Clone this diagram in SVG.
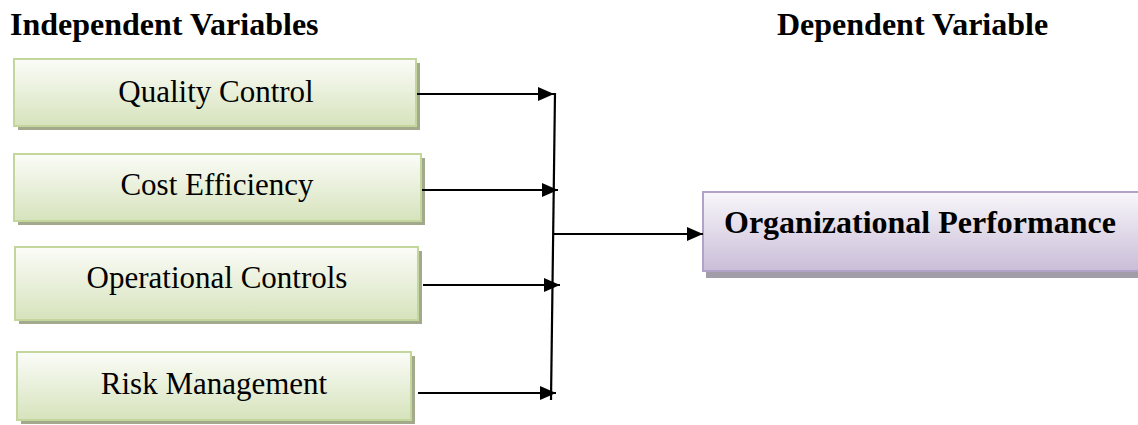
<svg xmlns="http://www.w3.org/2000/svg" width="1138" height="425" viewBox="0 0 1138 425">
<defs>
<linearGradient id="gGreen" x1="0" y1="0" x2="0" y2="1">
<stop offset="0" stop-color="#fbfcf8"/>
<stop offset="1" stop-color="#d6e3bc"/>
</linearGradient>
<linearGradient id="gPurple" x1="0" y1="0" x2="0" y2="1">
<stop offset="0" stop-color="#f8f7fa"/>
<stop offset="1" stop-color="#cabdd8"/>
</linearGradient>
<marker id="ah" viewBox="0 0 16 14" refX="16" refY="7" markerWidth="16" markerHeight="14" markerUnits="userSpaceOnUse" orient="auto">
<path d="M0,0 L16,7 L0,14 Z" fill="#000"/>
</marker>
<style>
.hdr{font-family:"Liberation Serif","Times New Roman",serif;font-weight:bold;font-size:32px;fill:#000}
.lbl{font-family:"Liberation Serif","Times New Roman",serif;font-size:31px;fill:#000;text-anchor:middle}
.big{font-family:"Liberation Serif","Times New Roman",serif;font-weight:bold;font-size:32px;fill:#000}
.gbox{fill:url(#gGreen);stroke:#c3d69b;stroke-width:2}
.gsh{fill:#a2a98c}
.pbox{fill:url(#gPurple);stroke:#b3a2c7;stroke-width:2}
.psh{fill:#a39ca9}
.conn{stroke:#000;stroke-width:2.2;fill:none}
</style>
</defs>
<rect width="1138" height="425" fill="#fff"/>
<text class="hdr" x="10" y="35">Independent Variables</text>
<text class="hdr" x="777" y="35">Dependent Variable</text>

<g id="node-quality">
<rect class="gsh" x="18" y="63" width="402" height="67"/>
<rect class="gbox" x="14" y="59" width="402" height="67"/>
<text class="lbl" x="216" y="102">Quality Control</text>
</g>
<g id="node-cost">
<rect class="gsh" x="18" y="158" width="407" height="67"/>
<rect class="gbox" x="14" y="154" width="407" height="67"/>
<text class="lbl" x="217" y="195">Cost Efficiency</text>
</g>
<g id="node-operational">
<rect class="gsh" x="19" y="251" width="403" height="73"/>
<rect class="gbox" x="15" y="247" width="403" height="73"/>
<text class="lbl" x="217" y="288">Operational Controls</text>
</g>
<g id="node-risk">
<rect class="gsh" x="21" y="356" width="394" height="68"/>
<rect class="gbox" x="17" y="352" width="394" height="68"/>
<text class="lbl" x="214" y="394">Risk Management</text>
</g>
<g id="node-performance">
<rect class="psh" x="706" y="196" width="440" height="82"/>
<rect class="pbox" x="703" y="192" width="440" height="79"/>
<text class="big" x="724" y="233">Organizational Performance</text>
</g>

<g id="connectors">
<line class="conn" x1="417" y1="94" x2="554" y2="94" marker-end="url(#ah)"/>
<line class="conn" x1="422" y1="190" x2="558" y2="190" marker-end="url(#ah)"/>
<line class="conn" x1="423" y1="285" x2="560" y2="285" marker-end="url(#ah)"/>
<line class="conn" x1="418" y1="393" x2="556" y2="393" marker-end="url(#ah)"/>
<line class="conn" x1="555" y1="93" x2="551" y2="400"/>
<line class="conn" x1="553" y1="234" x2="703" y2="234" marker-end="url(#ah)"/>
</g>
</svg>
